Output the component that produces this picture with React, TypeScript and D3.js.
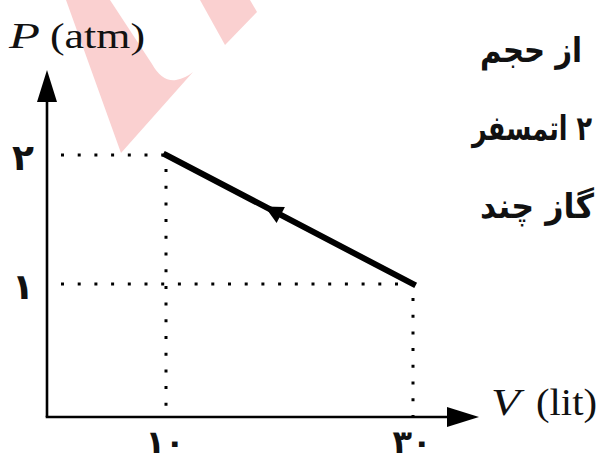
import React from 'react';
import * as d3 from 'd3';

// values
const volumeTicks = [10, 30];
const volumeLabels = ['۱۰', '۳۰'];
const pressureTicks = [1, 2];
const pressureLabels = ['۱', '۲'];
const processV = [10, 30];
const processP = [2, 1];
const textLines = ['از حجم', '۲ اتمسفر', 'گاز چند'];

const W = 600;
const H = 459;
const originX = 47;
const originY = 417;

export default function App() {
  const x = d3.scaleLinear().domain([10, 30]).range([166, 413]);
  const y = d3.scaleLinear().domain([1, 2]).range([284, 155]);

  const pts: [number, number][] = processV.map((v, i) => [x(v), y(processP[i])]);
  const line = d3.line();

  // arrow on the process line, pointing from (30,1) back to (10,2)
  const [x0, y0] = pts[0];
  const [x1, y1] = pts[1];
  const len = Math.hypot(x1 - x0, y1 - y0);
  const ux = (x0 - x1) / len;
  const uy = (y0 - y1) / len;
  const tipX = x0 + (x1 - x0) * 0.4;
  const tipY = y0 + (y1 - y0) * 0.4;
  const bx = tipX - ux * 18;
  const by = tipY - uy * 18;
  const arrow = `M${tipX},${tipY}L${bx - uy * 9},${by + ux * 9}L${bx + uy * 9},${by - ux * 9}Z`;

  const serif = '"Liberation Serif", "Times New Roman", serif';
  const persian = '"DejaVu Sans", sans-serif';

  return (
    <svg width={W} height={H} style={{ position: 'absolute', left: 0, top: 0, background: '#fff' }}>
      {/* faint watermark */}
      <g fill="#fad0d0">
        <path d="M66,0L110,0L152,64Q162,82 176,80Q186,78 193,72L121,153Z" />
        <path d="M200,0L250,0L257,12L225,45Z" />
      </g>

      {/* guide lines */}
      <g stroke="#000" strokeWidth={3} strokeDasharray="3 13.7" fill="none">
        {pts.map(([px, py], i) => (
          <g key={i}>
            <line x1={originX + 14} y1={py} x2={px} y2={py} />
            <line x1={px} y1={py + 14} x2={px} y2={originY} />
          </g>
        ))}
      </g>

      {/* axes */}
      <g stroke="#000" strokeWidth={2.6}>
        <line x1={originX} y1={originY} x2={originX} y2={96} />
        <line x1={originX - 1.3} y1={originY} x2={452} y2={originY} />
      </g>
      <path d={`M${originX},70L${originX - 10},102L${originX + 10},102Z`} fill="#000" />
      <path d={`M479,${originY}L447,${originY - 10}L447,${originY + 10}Z`} fill="#000" />

      {/* process */}
      <path d={line(pts) || ''} stroke="#000" strokeWidth={6} fill="none" strokeLinecap="square" />
      <path d={arrow} fill="#000" />

      {/* axis titles */}
      <text x={9} y={48} fontFamily={serif} fontSize={35} fill="#111" fontStyle="italic" textLength={31} lengthAdjust="spacingAndGlyphs">
        P
      </text>
      <text x={50} y={48} fontFamily={serif} fontSize={35} fill="#111" textLength={95} lengthAdjust="spacingAndGlyphs">
        (atm)
      </text>
      <text x={491} y={415} fontFamily={serif} fontSize={37} fill="#111" fontStyle="italic" textLength={29} lengthAdjust="spacingAndGlyphs">
        V
      </text>
      <text x={536} y={415} fontFamily={serif} fontSize={37} fill="#111" textLength={61} lengthAdjust="spacingAndGlyphs">
        (lit)
      </text>

      {/* tick labels */}
      {pressureTicks.map((p, i) => (
        <text key={p} x={23} y={y(p) + 15} textAnchor="middle" fontFamily={persian} fontSize={36} fontWeight="bold" fill="#111">
          {pressureLabels[i]}
        </text>
      ))}
      {volumeTicks.map((v, i) => (
        <text key={v} x={x(v) - 1} y={453} textAnchor="middle" fontFamily={persian} fontSize={32} fontWeight="bold" fill="#111">
          {volumeLabels[i]}
        </text>
      ))}

      {/* problem text, right edge */}
      {textLines.map((t, i) => (
        <text
          key={i}
          x={[480, 472, 480][i]}
          y={[62, 140, 218][i]}
          direction="rtl"
          textAnchor="end"
          fontFamily={persian}
          fontSize={34}
          fontWeight="bold"
          fill="#111"
          textLength={[102, 120, 114][i]}
          lengthAdjust="spacingAndGlyphs"
        >
          {t}
        </text>
      ))}
    </svg>
  );
}
